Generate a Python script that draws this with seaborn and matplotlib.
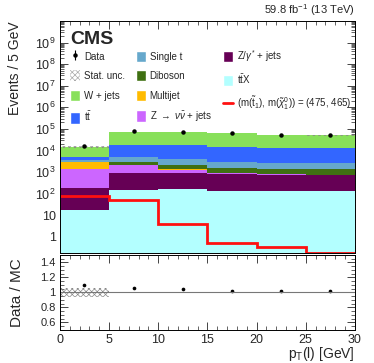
import numpy as np
import pandas as pd
import matplotlib
matplotlib.use("Agg")
import matplotlib.pyplot as plt
import seaborn as sns
from matplotlib.patches import Patch
from matplotlib.lines import Line2D
from matplotlib.ticker import FixedLocator, FuncFormatter, MultipleLocator, LogLocator, NullFormatter

# bins of lepton pT [GeV]
edges = [0, 5, 10, 15, 20, 25, 30]
centers = [2.5, 7.5, 12.5, 17.5, 22.5, 27.5]

# background yields per bin (events / 5 GeV)
w_jets = [9700, 54000, 54000, 50200, 38800, 37000]
ttbar = [1350, 13000, 14000, 11850, 10550, 10400]
single_t = [650, 2050, 1720, 1400, 1250, 1230]
diboson = [50, 700, 830, 630, 590, 580]
multijet = [1550, 100, 170, 20, 10, 10]
z_nunu = [1215, 1230, 280, 70, 60, 60]
dy_jets = [167, 770, 785, 695, 605, 570]
ttx = [18, 150, 165, 135, 135, 130]

data = [16200, 76300, 74900, 66300, 52800, 50750]
signal = [80, 53, 4.0, 0.53, 0.35, 0.18]
stat_unc = [0.06, 0.012, 0.012, 0.012, 0.012, 0.012]

processes = ["W + jets", r"$\mathrm{t\bar{t}}$", "Single t", "Diboson", "Multijet",
             r"Z $\rightarrow$ $\nu\bar{\nu}$ + jets", r"Z/$\gamma^{*}$ + jets",
             r"$\mathrm{t\bar{t}X}$"]
yields = [w_jets, ttbar, single_t, diboson, multijet, z_nunu, dy_jets, ttx]
colors = ["#88e05a", "#3366ff", "#66a8cc", "#3f7012", "#ffbb00",
          "#cc66ff", "#660055", "#b3ffff"]

rows = []
for proc, vals in zip(processes, yields):
    for c, v in zip(centers, vals):
        rows.append({"pt": c, "events": v, "process": proc})
df = pd.DataFrame(rows)

sns.set_theme(style="ticks")
plt.rcParams["font.family"] = ["Liberation Sans", "DejaVu Sans"]
plt.rcParams["mathtext.fontset"] = "custom"
plt.rcParams["mathtext.rm"] = "Liberation Sans"
plt.rcParams["mathtext.it"] = "Liberation Sans:italic"
plt.rcParams["mathtext.bf"] = "Liberation Sans:bold"
plt.rcParams["hatch.color"] = "#888888"
plt.rcParams["hatch.linewidth"] = 0.5

fig = plt.figure(figsize=(3.74, 3.63), dpi=100)
ax1 = fig.add_axes([0.160, 0.303, 0.789, 0.639])
ax2 = fig.add_axes([0.160, 0.091, 0.789, 0.2066])

sns.histplot(data=df, x="pt", weights="events", hue="process", hue_order=processes,
             palette=colors, bins=edges, multiple="stack", element="bars",
             linewidth=0, alpha=1, legend=False, ax=ax1)
ax1.set_yscale("log")

total = np.sum(np.array(yields), axis=0)
unc = np.array(stat_unc)
ax1.fill_between(edges, np.append(total * (1 - unc), total[-1] * (1 - unc[-1])),
                 np.append(total * (1 + unc), total[-1] * (1 + unc[-1])),
                 step="post", facecolor="none", edgecolor="#888888", hatch="xxxxxx", linewidth=0)
ax1.stairs(signal, edges, baseline=None, color="#ff1010", linewidth=2)
data_h = ax1.errorbar(centers, data, yerr=np.sqrt(data), fmt="o", ms=2.2, color="black",
                      elinewidth=0.8, capsize=0)

ax1.set_xlim(0, 30)
ax1.set_ylim(0.18, 9.9e9)
ax1.set_xlabel("")
ax1.set_ylabel("Events / 5 GeV", fontsize=10, loc="top")
ax1.yaxis.set_label_coords(-0.128, 1.0)
ax1.yaxis.set_major_locator(LogLocator(base=10, numticks=20))
ax1.yaxis.set_minor_locator(LogLocator(base=10, subs=np.arange(2, 10), numticks=20))
ax1.yaxis.set_minor_formatter(NullFormatter())


def log_fmt(v, pos):
    if v == 1:
        return "1"
    if v == 10:
        return "10"
    return r"$10^{%d}$" % int(round(np.log10(v)))


ax1.yaxis.set_major_formatter(FuncFormatter(log_fmt))
ax1.xaxis.set_major_locator(MultipleLocator(5))
ax1.xaxis.set_minor_locator(MultipleLocator(1))
ax1.tick_params(axis="x", labelbottom=False)

# ratio panel
ratio = np.array(data) / total
rdf = pd.DataFrame({"pt": centers, "ratio": ratio})
ax2.axhline(1.0, color="#777777", linewidth=0.8)
ax2.fill_between(edges[:2], [1 - stat_unc[0]] * 2, [1 + stat_unc[0]] * 2,
                 facecolor="none", edgecolor="#888888", hatch="xxxxxx", linewidth=0)
sns.scatterplot(data=rdf, x="pt", y="ratio", color="black", s=7, linewidth=0, ax=ax2)
ax2.set_xlim(0, 30)
ax2.set_ylim(0.5, 1.5)
ax2.yaxis.set_major_locator(FixedLocator([0.6, 0.8, 1.0, 1.2, 1.4]))
ax2.yaxis.set_major_formatter(FuncFormatter(lambda v, p: "%g" % v))
ax2.yaxis.set_minor_locator(MultipleLocator(0.05))
ax2.xaxis.set_major_locator(MultipleLocator(5))
ax2.xaxis.set_minor_locator(MultipleLocator(1))
ax2.set_ylabel("Data / MC", fontsize=11)
ax2.yaxis.set_label_coords(-0.12, 0.5)
ax2.set_xlabel(r"p$_{\mathrm{T}}$(l) [GeV]", fontsize=10, loc="right", labelpad=-1)

for ax in (ax1, ax2):
    ax.tick_params(which="both", direction="in", top=True, right=True, labelsize=9, pad=3)
    ax.tick_params(which="major", length=6, width=0.6)
    ax.tick_params(which="minor", length=3, width=0.5)
    for s in ax.spines.values():
        s.set_linewidth(0.7)
        s.set_color("black")
ax2.tick_params(axis="y", labelsize=8)

ax1.text(0.035, 0.955, "CMS", transform=ax1.transAxes, fontsize=14, fontweight="bold",
         va="top", ha="left")
ax1.text(1.0, 1.012, r"59.8 fb$^{-1}$ (13 TeV)", transform=ax1.transAxes, fontsize=8,
         ha="right", va="bottom")

h = [data_h,
     Patch(facecolor="white", edgecolor="#aaaaaa", hatch="xxxxxx", linewidth=0),
     Patch(facecolor=colors[0]), Patch(facecolor=colors[1]),
     Patch(facecolor=colors[2]), Patch(facecolor=colors[3]),
     Patch(facecolor=colors[4]), Patch(facecolor=colors[5]),
     Patch(facecolor=colors[6]), Patch(facecolor=colors[7]),
     Line2D([], [], color="#ff1010", linewidth=2)]
labels = ["Data", "Stat. unc.", processes[0], processes[1], processes[2], processes[3],
          processes[4], processes[5], processes[6], processes[7],
          r"(m($\tilde{\mathrm{t}}_{1}$), m($\tilde{\chi}^{0}_{1}$)) = (475, 465)"]
ax1.legend(h, labels, ncol=3, loc="upper left", bbox_to_anchor=(0.035, 0.885),
           frameon=False, fontsize=7, handlelength=1.0, handleheight=1.4,
           handletextpad=0.4, columnspacing=1.15, labelspacing=0.85, borderaxespad=0,
           borderpad=0)

fig.savefig("out.png", dpi=100)
